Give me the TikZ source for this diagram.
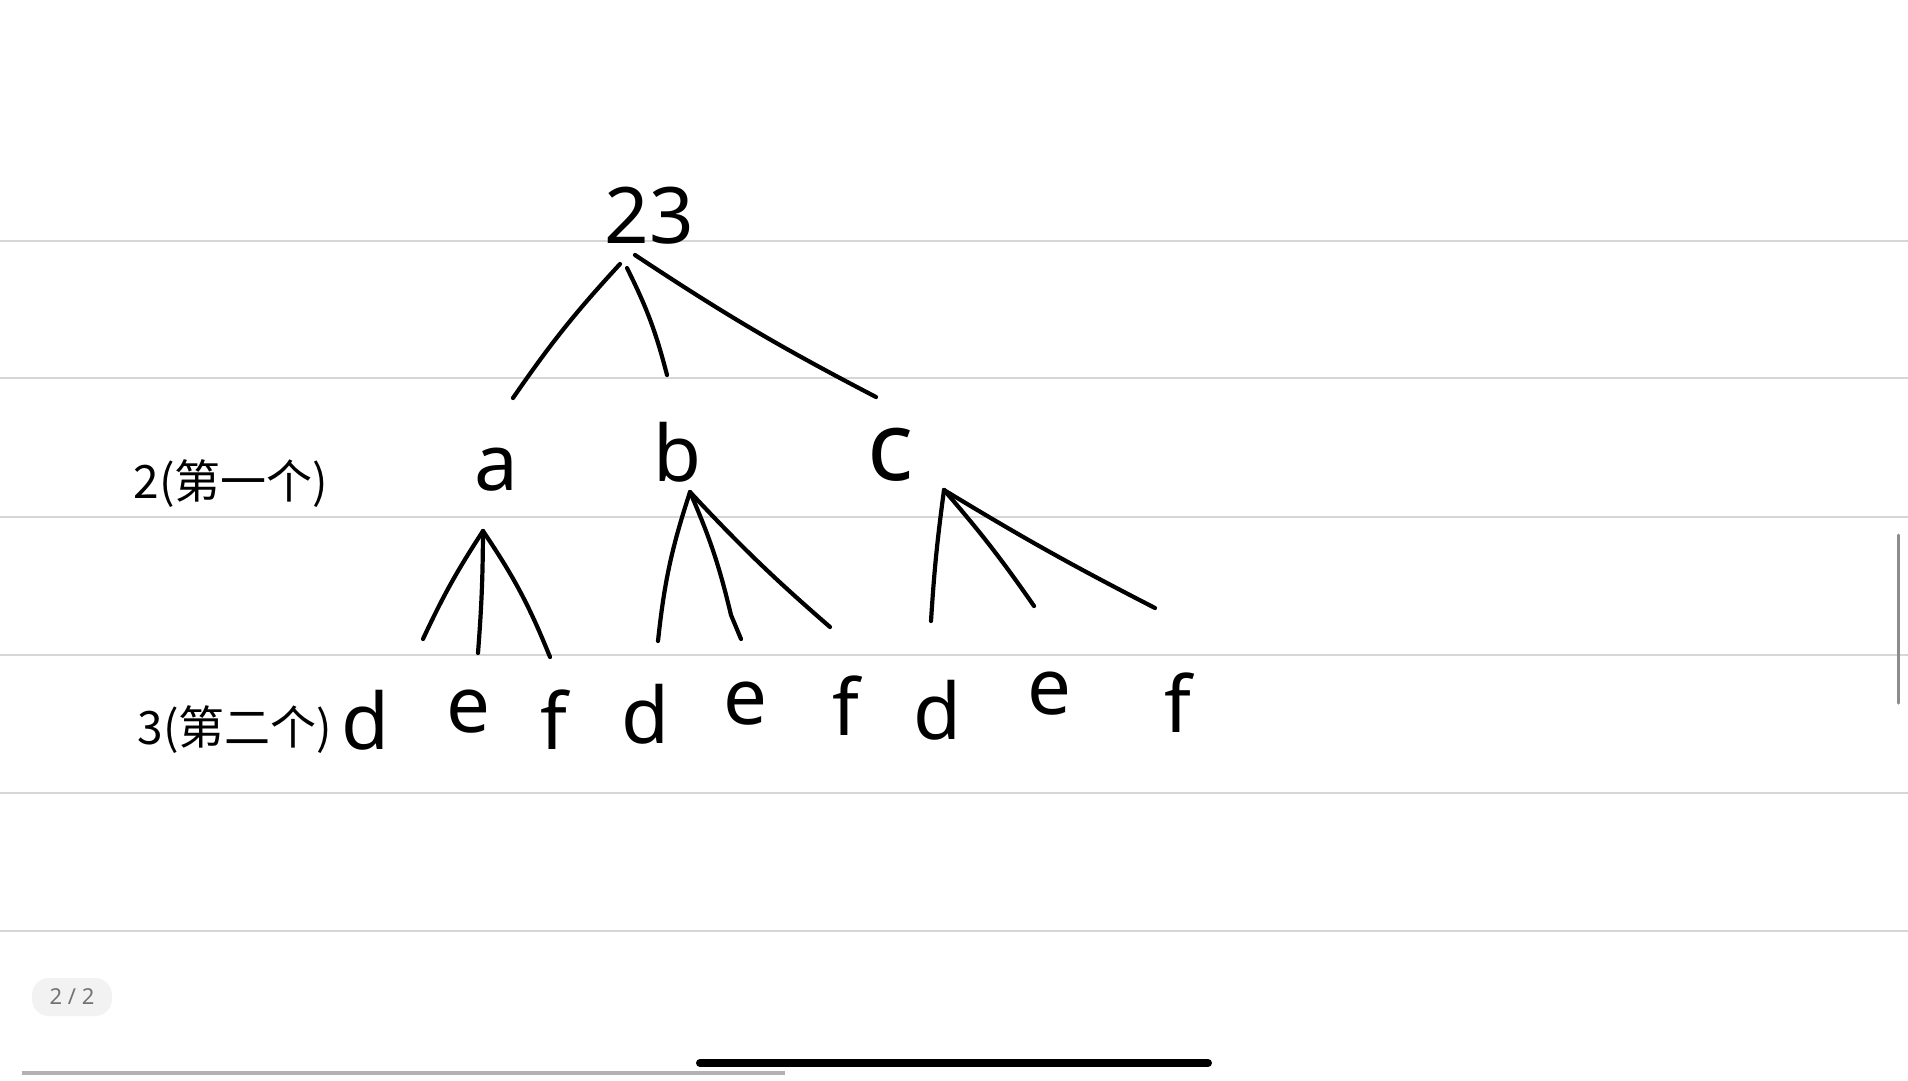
\documentclass[tikz,border=0pt]{standalone}
\usepackage{fontspec}
\setmainfont{Noto Sans}
\newfontfamily\cjk{Noto Sans CJK SC}
\begin{document}
\begin{tikzpicture}[x=1pt,y=-1pt,
  ink/.style={line width=4.2pt,line cap=round,line join=round,black},
  rule/.style={line width=2pt,color=black!16},
  letter/.style={inner sep=0pt,font=\fontsize{78}{78}\selectfont},
  lvl/.style={inner sep=0pt,font=\cjk\fontsize{46}{46}\selectfont}]
\fill[white] (0,0) rectangle (1908,1080);
\useasboundingbox (0,0) rectangle (1908,1080);
\foreach \y in {241,378,517,655,793,931} \draw[rule] (0,\y) -- (1908,\y);

% root
\node[letter] (root) at (649,216) {23};
% level 2
\node[letter] (a) at (496,470) {a};
\node[letter] (b) at (677,452) {b};
\node[letter,font=\fontsize{96}{96}\selectfont] (c) at (891,455) {c};
\node[lvl] (l2) at (231,484) {2(第一个)};
% level 3
\node[letter] (d1) at (365,720) {d};
\node[letter] (e1) at (468,712) {e};
\node[letter] (f1) at (554,720) {f};
\node[letter] (d2) at (645,714) {d};
\node[letter] (e2) at (745,704) {e};
\node[letter] (f2) at (846,706) {f};
\node[letter] (d3) at (937,710) {d};
\node[letter] (e3) at (1049,694) {e};
\node[letter] (f3) at (1178,703) {f};
\node[lvl] (l3) at (235,730) {3(第二个)};

% connector end points
\coordinate (r1) at (620,264);
\coordinate (r2) at (627,268);
\coordinate (r3) at (635,255);
\coordinate (ta) at (513,398);
\coordinate (tb) at (667,375);
\coordinate (tc) at (876,397);
\coordinate (pa) at (483,531);
\coordinate (pb) at (690,492);
\coordinate (pc) at (944,490);
\coordinate (a1) at (423,639);
\coordinate (a2) at (478,653);
\coordinate (a3) at (550,657);
\coordinate (b1) at (658,641);
\coordinate (b2) at (741,639);
\coordinate (b3) at (830,627);
\coordinate (c1) at (931,621);
\coordinate (c2) at (1034,606);
\coordinate (c3) at (1155,608);

\draw[ink] (r1) to[bend right=4] (ta);
\draw[ink] (r2) to[bend left=6] (tb);
\draw[ink] (r3) to[bend right=3] (tc);
\draw[ink] (pa) to[bend right=4] (a1);
\draw[ink] (pa) to[bend left=2] (a2);
\draw[ink] (pa) to[bend left=6] (a3);
\draw[ink] (pb) to[bend right=6] (b1);
\draw[ink] (pb) to[bend left=5] ([shift={(-10,-24)}]b2) -- (b2);
\draw[ink] (pb) to[bend right=3] (b3);
\draw[ink] (pc) to[bend right=2] (c1);
\draw[ink] (pc) to[bend left=3] (c2);
\draw[ink] (pc) to[bend right=2] (c3);

% interface elements
\draw[line width=3pt,color=black!45,line cap=round] (1898,535) -- (1898,703);
\draw[line width=4pt,color=black!30] (22,1073) -- (785,1073);
\draw[line width=8pt,line cap=round] (700,1063) -- (1208,1063);
\node[fill=black!5,rounded corners=17pt,minimum width=80pt,minimum height=38pt,
  text=black!55,font=\fontsize{22}{22}\selectfont] (page) at (72,997) {2 / 2};
\end{tikzpicture}
\end{document}
